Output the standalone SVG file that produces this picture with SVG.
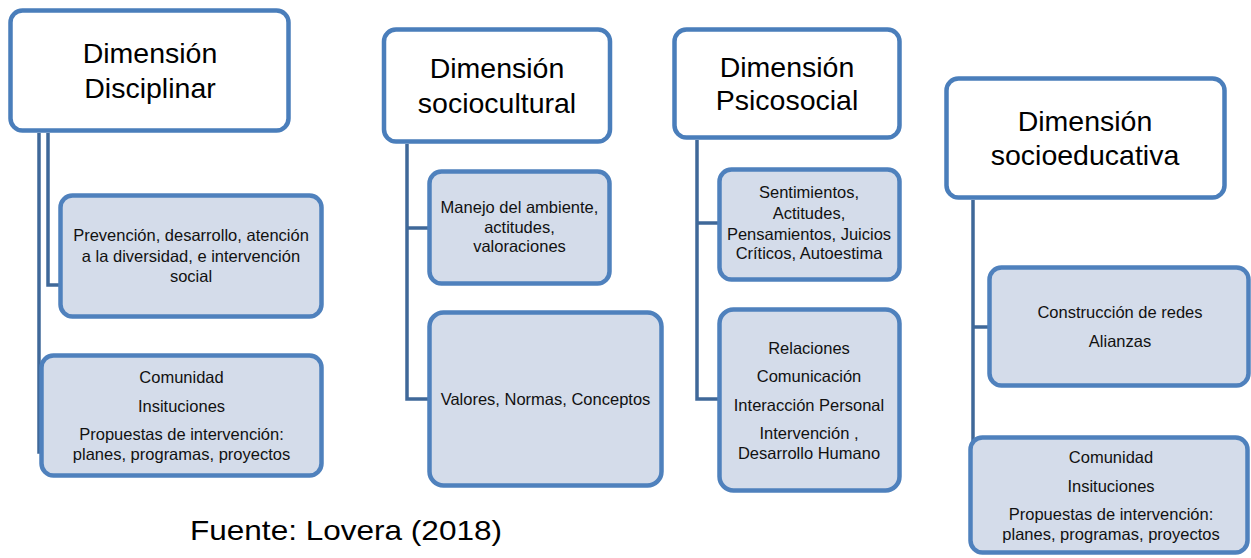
<svg xmlns="http://www.w3.org/2000/svg" width="1251" height="558" viewBox="0 0 1251 558">
<style>
.hdr{fill:#ffffff;stroke:#4a7ebb;stroke-width:4.5}
.box{fill:#d4dcea;stroke:#4f81bd;stroke-width:4.5}
.con{fill:none;stroke:#3f6899;stroke-width:3.5}
.ht{font-family:"Liberation Sans",Arial,sans-serif;font-size:28.5px;fill:#000;text-anchor:middle}
.bt{font-family:"Liberation Sans",Arial,sans-serif;font-size:16.5px;fill:#111;text-anchor:middle}
.cap{font-family:"Liberation Sans",Arial,sans-serif;font-size:28px;fill:#000}
</style>
<rect width="1251" height="558" fill="#ffffff"/>
<g id="connectors">
<path class="con" d="M48,133 V285 H62"/>
<path class="con" d="M39,133 V452 H43"/>
<path class="con" d="M407,144 V399 H431 M407,228 H431"/>
<path class="con" d="M697,140 V399 H721 M697,223 H721"/>
<path class="con" d="M973,200 V445 M973,327 H991"/>
</g>
<g id="h1">
<rect class="hdr" x="10.5" y="10.5" width="278" height="120" rx="12"/>
<text class="ht" x="150" y="63">Dimensión</text>
<text class="ht" x="150" y="98">Disciplinar</text>
</g>
<g id="b1a">
<rect class="box" x="60.5" y="195.5" width="261" height="121" rx="12"/>
<text class="bt" x="191" y="240.5">Prevención, desarrollo, atención</text>
<text class="bt" x="191" y="261.5">a la diversidad, e intervención</text>
<text class="bt" x="191" y="281.5">social</text>
</g>
<g id="b1b">
<rect class="box" x="41.5" y="355.5" width="280" height="120" rx="12"/>
<text class="bt" x="181.5" y="383">Comunidad</text>
<text class="bt" x="181.5" y="412">Insituciones</text>
<text class="bt" x="181.5" y="440">Propuestas de intervención:</text>
<text class="bt" x="181.5" y="460">planes, programas, proyectos</text>
</g>
<g id="h2">
<rect class="hdr" x="384" y="29.5" width="226" height="112" rx="12"/>
<text class="ht" x="497" y="78">Dimensión</text>
<text class="ht" x="497" y="113">sociocultural</text>
</g>
<g id="b2a">
<rect class="box" x="429.5" y="171.5" width="180" height="112" rx="12"/>
<text class="bt" x="519.5" y="212.5">Manejo del ambiente,</text>
<text class="bt" x="519.5" y="232.5">actitudes,</text>
<text class="bt" x="519.5" y="252">valoraciones</text>
</g>
<g id="b2b">
<rect class="box" x="429.5" y="312.5" width="232" height="173" rx="14"/>
<text class="bt" x="545.5" y="405">Valores, Normas, Conceptos</text>
</g>
<g id="h3">
<rect class="hdr" x="674.5" y="29.5" width="225" height="108" rx="12"/>
<text class="ht" x="787" y="77">Dimensión</text>
<text class="ht" x="787" y="110">Psicosocial</text>
</g>
<g id="b3a">
<rect class="box" x="719.5" y="169.5" width="180" height="110" rx="12"/>
<text class="bt" x="809" y="198">Sentimientos,</text>
<text class="bt" x="809" y="218.5">Actitudes,</text>
<text class="bt" x="809" y="239.5">Pensamientos, Juicios</text>
<text class="bt" x="809" y="259">Críticos, Autoestima</text>
</g>
<g id="b3b">
<rect class="box" x="719.5" y="309.5" width="180" height="181" rx="14"/>
<text class="bt" x="809" y="354">Relaciones</text>
<text class="bt" x="809" y="382">Comunicación</text>
<text class="bt" x="809" y="410.5">Interacción Personal</text>
<text class="bt" x="809" y="439">Intervención ,</text>
<text class="bt" x="809" y="459">Desarrollo Humano</text>
</g>
<g id="h4">
<rect class="hdr" x="946.5" y="78.5" width="278" height="119" rx="12"/>
<text class="ht" x="1085" y="131">Dimensión</text>
<text class="ht" x="1085" y="165">socioeducativa</text>
</g>
<g id="b4a">
<rect class="box" x="989.5" y="267.5" width="259" height="118" rx="12"/>
<text class="bt" x="1120" y="318">Construcción de redes</text>
<text class="bt" x="1120" y="347">Alianzas</text>
</g>
<g id="b4b">
<rect class="box" x="970.5" y="437.5" width="277" height="115" rx="12"/>
<text class="bt" x="1111" y="463">Comunidad</text>
<text class="bt" x="1111" y="492">Insituciones</text>
<text class="bt" x="1111" y="520">Propuestas de intervención:</text>
<text class="bt" x="1111" y="540">planes, programas, proyectos</text>
</g>
<text class="cap" x="190" y="540" textLength="312" lengthAdjust="spacingAndGlyphs">Fuente: Lovera (2018)</text>
</svg>
